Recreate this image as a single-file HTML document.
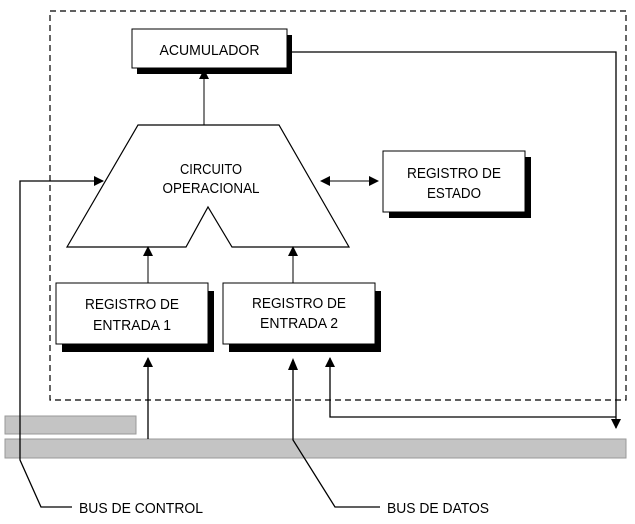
<!DOCTYPE html>
<html><head><meta charset="utf-8"><style>
html,body{margin:0;padding:0;background:#fff;}
svg{display:block}
text{font-family:"Liberation Sans",sans-serif;font-size:15px;fill:#000;}
</style></head><body>
<svg width="635" height="524" viewBox="0 0 635 524" xmlns="http://www.w3.org/2000/svg">
<defs>
<marker id="a" markerWidth="10" markerHeight="10" refX="9" refY="5" orient="auto" markerUnits="userSpaceOnUse"><path d="M0,0 L10,5 L0,10 z" fill="#000"/></marker>
<marker id="b" markerWidth="10" markerHeight="10" refX="1" refY="5" orient="auto" markerUnits="userSpaceOnUse"><path d="M10,0 L0,5 L10,10 z" fill="#000"/></marker>
</defs>
<rect x="50" y="11" width="576" height="389" fill="none" stroke="#000" stroke-width="1.2" stroke-dasharray="6,4"/>
<rect x="5" y="416" width="131" height="18" fill="#c4c4c4" stroke="#999"/>
<rect x="5" y="439" width="621" height="19" fill="#c4c4c4" stroke="#999"/>
<rect x="137" y="35" width="155" height="39" fill="#000"/>
<rect x="132" y="29" width="155" height="39" fill="#fff" stroke="#000"/>
<text x="209.5" y="55" text-anchor="middle" textLength="100" lengthAdjust="spacingAndGlyphs">ACUMULADOR</text>
<path d="M138,125 L279,125 L349,247 L232,247 L208,207 L186,247 L67,247 Z" fill="#fff" stroke="#000" stroke-width="1.2"/>
<text x="211" y="174" text-anchor="middle" textLength="62" lengthAdjust="spacingAndGlyphs">CIRCUITO</text>
<text x="211" y="193" text-anchor="middle" textLength="97" lengthAdjust="spacingAndGlyphs">OPERACIONAL</text>
<line x1="204" y1="125" x2="204" y2="70" stroke="#000" marker-end="url(#a)"/>
<rect x="389" y="157" width="142" height="61" fill="#000"/>
<rect x="383" y="151" width="142" height="61" fill="#fff" stroke="#000"/>
<text x="454" y="178" text-anchor="middle" textLength="94" lengthAdjust="spacingAndGlyphs">REGISTRO DE</text>
<text x="454" y="198" text-anchor="middle" textLength="54" lengthAdjust="spacingAndGlyphs">ESTADO</text>
<line x1="321" y1="181" x2="378" y2="181" stroke="#000" marker-start="url(#b)" marker-end="url(#a)"/>
<rect x="62" y="291" width="152" height="61" fill="#000"/>
<rect x="56" y="283" width="152" height="61" fill="#fff" stroke="#000"/>
<text x="132" y="309" text-anchor="middle" textLength="94" lengthAdjust="spacingAndGlyphs">REGISTRO DE</text>
<text x="132" y="330" text-anchor="middle" textLength="78" lengthAdjust="spacingAndGlyphs">ENTRADA 1</text>
<rect x="229" y="291" width="152" height="61" fill="#000"/>
<rect x="223" y="283" width="152" height="61" fill="#fff" stroke="#000"/>
<text x="299" y="308" text-anchor="middle" textLength="94" lengthAdjust="spacingAndGlyphs">REGISTRO DE</text>
<text x="299" y="328" text-anchor="middle" textLength="78" lengthAdjust="spacingAndGlyphs">ENTRADA 2</text>
<line x1="148" y1="283" x2="148" y2="247" stroke="#000" marker-end="url(#a)"/>
<line x1="293" y1="283" x2="293" y2="247" stroke="#000" marker-end="url(#a)"/>
<line x1="148" y1="439" x2="148" y2="358" stroke="#000" stroke-width="1.3" marker-end="url(#a)"/>
<polyline points="293,360 293,440 335,507 380,507" fill="none" stroke="#000" stroke-width="1.3"/>
<path d="M288,370 L293,358 L298,370 Z" fill="#000"/>
<polyline points="72,507 41,507 20,460 20,181 103,181" fill="none" stroke="#000" stroke-width="1.3" marker-end="url(#a)"/>
<polyline points="287,52 616,52 616,428" fill="none" stroke="#000" stroke-width="1.3" marker-end="url(#a)"/>
<polyline points="616,417 330,417 330,358" fill="none" stroke="#000" stroke-width="1.3" marker-end="url(#a)"/>
<text x="79" y="513" textLength="124" lengthAdjust="spacingAndGlyphs">BUS DE CONTROL</text>
<text x="387" y="513" textLength="102" lengthAdjust="spacingAndGlyphs">BUS DE DATOS</text>
</svg>
</body></html>
